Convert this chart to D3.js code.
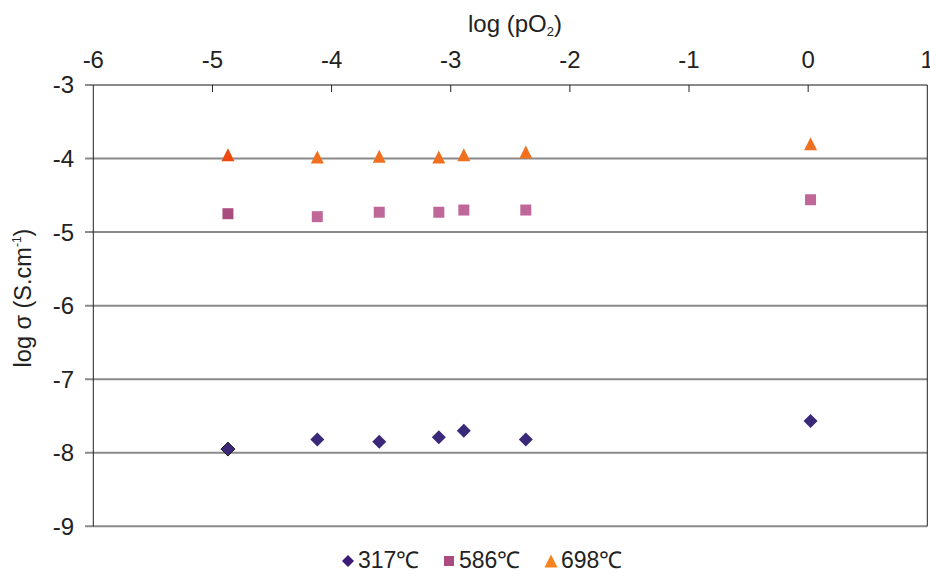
<!DOCTYPE html>
<html><head><meta charset="utf-8">
<script src="https://cdn.jsdelivr.net/npm/d3@7"></script>
<style>body{margin:0;background:#fff}svg{display:block;font-family:"Liberation Sans",Arial,sans-serif}</style>
</head><body><svg id="c" width="930" height="574"></svg>
<script>
const xTicks = [-6, -5, -4, -3, -2, -1, 0, 1];
const yTicks = [-3, -4, -5, -6, -7, -8, -9];
const logPO2 = [-4.87, -4.12, -3.60, -3.10, -2.89, -2.37, 0.02];
const s317 = [-7.95, -7.82, -7.85, -7.79, -7.70, -7.82, -7.57];
const s586 = [-4.75, -4.79, -4.73, -4.73, -4.70, -4.70, -4.56];
const s698 = [-3.95, -3.98, -3.97, -3.98, -3.95, -3.91, -3.80];
const seriesNames = ["317℃", "586℃", "698℃"];

const svg = d3.select("#c");
const x = d3.scaleLinear().domain([-6, 1]).range([93.3, 927.3]);
const y = d3.scaleLinear().domain([-3, -9]).range([85, 526.3]);

svg.append("g").selectAll("line").data(yTicks).join("line")
  .attr("x1", 85).attr("x2", 927.3)
  .attr("y1", d => y(d)).attr("y2", d => y(d))
  .attr("stroke", "#8a8a8a").attr("stroke-width", 2);

svg.append("line").attr("x1", x(-6)).attr("x2", x(-6)).attr("y1", y(-3)).attr("y2", y(-9))
  .attr("stroke", "#222").attr("stroke-width", 1);
svg.append("line").attr("x1", x(1)).attr("x2", x(1)).attr("y1", y(-3)).attr("y2", y(-9))
  .attr("stroke", "#222").attr("stroke-width", 1);

svg.append("g").selectAll("line").data(xTicks.slice(1, -1)).join("line")
  .attr("x1", d => x(d)).attr("x2", d => x(d)).attr("y1", y(-3)).attr("y2", y(-3) + 7)
  .attr("stroke", "#222").attr("stroke-width", 1);

svg.append("g").selectAll("text").data(xTicks).join("text")
  .attr("x", d => x(d)).attr("y", 68).attr("text-anchor", "middle")
  .attr("font-size", 24).attr("fill", "#222").text(d => d);

svg.append("g").selectAll("text").data(yTicks).join("text")
  .attr("x", 74).attr("y", d => y(d)).attr("dy", "0.35em").attr("text-anchor", "end")
  .attr("font-size", 24).attr("fill", "#222").text(d => d);

const xt = svg.append("text").attr("x", 515).attr("y", 32).attr("text-anchor", "middle")
  .attr("font-size", 24).attr("fill", "#222");
xt.append("tspan").text("log (pO");
xt.append("tspan").attr("font-size", 13).attr("dy", 4).text("2");
xt.append("tspan").attr("dy", -4).text(")");

const yt = svg.append("text").attr("transform", "translate(31,298) rotate(-90)")
  .attr("text-anchor", "middle").attr("font-size", 23.5).attr("fill", "#222");
yt.append("tspan").text("log σ (S.cm");
yt.append("tspan").attr("font-size", 12).attr("dy", -10).text("-1");
yt.append("tspan").attr("dy", 10).text(")");

const diamond = { draw(ctx, size) { const r = Math.sqrt(size) / 2; ctx.moveTo(0, -r); ctx.lineTo(r, 0); ctx.lineTo(0, r); ctx.lineTo(-r, 0); ctx.closePath(); } };
const square = { draw(ctx, size) { const r = Math.sqrt(size) / 2; ctx.rect(-r, -r, 2 * r, 2 * r); } };
const tri = { draw(ctx, size) { const r = Math.sqrt(size) / 2; ctx.moveTo(0, -r); ctx.lineTo(r, r); ctx.lineTo(-r, r); ctx.closePath(); } };

const styles = [
  { sym: diamond, size: 196, fill: "#3c2878", first: "#3c2878", firstStroke: "#222", legend: "#3d1a78" },
  { sym: square, size: 121, fill: "#c0679a", first: "#a84d7d", firstStroke: "none", legend: "#aa4a7e" },
  { sym: tri, size: 169, fill: "#f07020", first: "#ee4a10", firstStroke: "none", legend: "#f5821f" }
];
const allSeries = [s317, s586, s698];

allSeries.forEach((vals, si) => {
  const st = styles[si];
  svg.append("g").selectAll("path").data(vals.map((v, i) => ({ x: logPO2[i], y: v, i }))).join("path")
    .attr("transform", d => `translate(${x(d.x)},${y(d.y)})`)
    .attr("d", d3.symbol(st.sym, st.size))
    .attr("fill", d => d.i === 0 ? st.first : st.fill)
    .attr("stroke", d => d.i === 0 ? st.firstStroke : "none")
    .attr("stroke-width", 1);
});

const legX = [348, 449, 551];
const legSizes = [144, 100, 169];
seriesNames.forEach((name, i) => {
  const st = styles[i];
  svg.append("path").attr("transform", `translate(${legX[i]},561)`)
    .attr("d", d3.symbol(st.sym, legSizes[i])).attr("fill", st.legend);
  svg.append("text").attr("x", legX[i] + 10).attr("y", 560).attr("dy", "0.36em")
    .attr("font-size", 23).attr("fill", "#222").text(name);
});
</script></body></html>
